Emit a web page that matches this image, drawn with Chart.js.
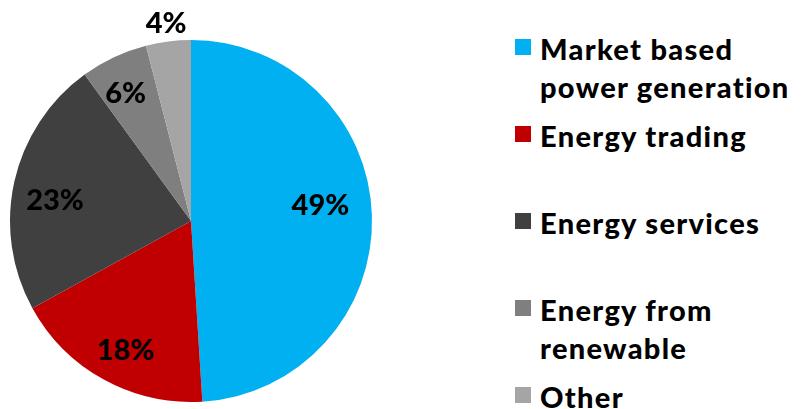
<!DOCTYPE html>
<html>
<head>
<meta charset="utf-8">
<script src="https://cdn.jsdelivr.net/npm/chart.js@4"></script>
<style>
  html, body { margin: 0; padding: 0; background: #fff; }
  body { width: 802px; height: 409px; position: relative; overflow: hidden;
         font-family: 'Lato', 'DejaVu Sans', sans-serif; }
  #chartBox { position: absolute; left: 0; top: 0; width: 382px; height: 409px; }
  #legend { position: absolute; left: 515px; top: 30px; right: 0; }
  .item { display: flex; align-items: flex-start; height: 87px; }
  .box { width: 16px; height: 16px; margin-top: 9px; margin-right: 9px; flex: none; }
  .txt { font-weight: 900; font-size: 29px; letter-spacing: 1.3px; line-height: 38px; color: #000; white-space: nowrap; }
</style>
</head>
<body>
<div id="chartBox"><canvas id="shareChart"></canvas></div>
<div id="legend"></div>
<script>
// Categories (legend uses a line break where the original wraps)
const categories = ['Market based\npower generation', 'Energy trading', 'Energy services', 'Energy from\nrenewable', 'Other'];
const shares = [49, 18, 23, 6, 4];
const colors = ['#00B0F0', '#C00000', '#404040', '#7F7F7F', '#A5A5A5'];
// where each percentage sits: fraction of radius, and a small angle nudge (degrees)
const labelRadius = [0.72, 0.8, 0.76, 0.79, 1.1];
const labelNudge = [-5, -2, -4, -2, 0];

// Draw the % labels on/near the slices
const sliceLabels = {
    id: 'sliceLabels',
    afterDatasetsDraw(chart) {
        const c = chart.ctx;
        const meta = chart.getDatasetMeta(0);
        c.save();
        c.font = '900 29px Lato, "DejaVu Sans", sans-serif';
        c.fillStyle = '#000';
        c.textAlign = 'center';
        c.textBaseline = 'middle';
        meta.data.forEach((arc, i) => {
            const p = arc.getProps(['x', 'y', 'startAngle', 'endAngle', 'outerRadius'], true);
            const mid = (p.startAngle + p.endAngle) / 2 + labelNudge[i] * Math.PI / 180;
            const r = p.outerRadius * labelRadius[i];
            c.fillText(shares[i] + '%', p.x + Math.cos(mid) * r, p.y + Math.sin(mid) * r);
        });
        c.restore();
    }
};

const ctx = document.getElementById('shareChart').getContext('2d');
new Chart(ctx, {
    type: 'pie',
    data: {
        labels: categories.map(s => s.replace('\n', ' ')),
        datasets: [{
            data: shares,
            backgroundColor: colors,
            borderWidth: 0
        }]
    },
    options: {
        responsive: true,
        maintainAspectRatio: false,
        animation: false,
        layout: { padding: { left: 10, right: 10, top: 40, bottom: 7 } },
        plugins: {
            legend: { display: false },
            tooltip: { enabled: false }
        }
    },
    plugins: [sliceLabels]
});

// HTML legend built from the same arrays
const legend = document.getElementById('legend');
categories.forEach((name, i) => {
    const row = document.createElement('div');
    row.className = 'item';
    const box = document.createElement('div');
    box.className = 'box';
    box.style.background = colors[i];
    const txt = document.createElement('div');
    txt.className = 'txt';
    txt.innerHTML = name.split('\n').join('<br>');
    row.appendChild(box);
    row.appendChild(txt);
    legend.appendChild(row);
});
</script>
</body>
</html>
